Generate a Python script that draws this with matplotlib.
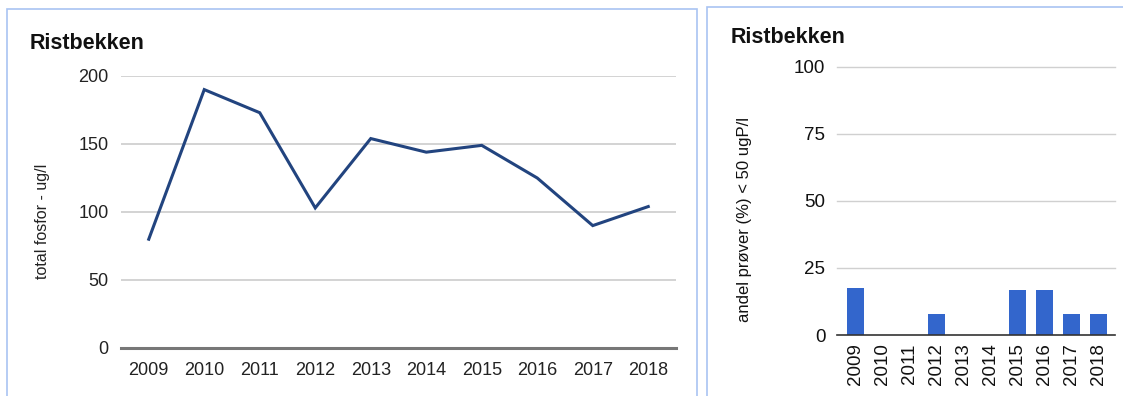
import matplotlib.pyplot as plt
from matplotlib.patches import Rectangle

years = ['2009', '2010', '2011', '2012', '2013', '2014', '2015', '2016', '2017', '2018']
fosfor = [80, 190, 173, 103, 154, 144, 149, 125, 90, 104]
andel = [17.6, 0, 0, 7.7, 0, 0, 16.7, 16.7, 7.7, 7.7]

plt.rcParams['font.family'] = ['Liberation Sans', 'DejaVu Sans']

W, H = 1123, 396
fig = plt.figure(figsize=(W / 100, H / 100), dpi=100)


def px_axes(x0, y0, x1, y1):
    # pixel box (top-left origin) -> figure axes
    return fig.add_axes([x0 / W, 1 - y1 / H, (x1 - x0) / W, (y1 - y0) / H])


# panel frames
border = '#a9c4f2'
fig.patches.append(Rectangle((7 / W, -0.05), 690 / W, 1 - 9 / H + 0.05,
                             transform=fig.transFigure, fill=False,
                             edgecolor=border, lw=1.2))
fig.patches.append(Rectangle((707 / W, -0.05), 420 / W, 1 - 7 / H + 0.05,
                             transform=fig.transFigure, fill=False,
                             edgecolor=border, lw=1.2))

# left: line chart
ax1 = px_axes(121, 76, 676, 348)
x = range(len(years))
ax1.plot(x, fosfor, color='#22447f', lw=2.2, solid_joinstyle='miter')
ax1.set_xlim(-0.5, len(years) - 0.5)
ax1.set_ylim(0, 200)
ax1.set_yticks([0, 50, 100, 150, 200])
ax1.set_xticks(list(x))
ax1.set_xticklabels(years)
for s in ax1.spines.values():
    s.set_visible(False)
ax1.grid(axis='y', color='#d0d0d0', lw=1.3)
ax1.set_axisbelow(True)
ax1.axhline(0, color='#777777', lw=2.2, clip_on=False)
ax1.tick_params(length=0, labelsize=13, colors='#222222')
ax1.tick_params(axis='y', pad=9)
ax1.tick_params(axis='x', pad=10)
fig.text(30 / W, 1 - 49 / H, 'Ristbekken', fontsize=15.5, fontweight='bold',
         color='#111111', va='baseline')
fig.text(42 / W, 1 - 221 / H, 'total fosfor - ug/l', rotation=90,
         fontsize=11.5, ha='center', va='center', color='#222222')

# right: bar chart
ax2 = px_axes(842, 67, 1112, 335)
ax2.bar(range(len(years)), andel, width=0.63, color='#3366cc')
ax2.set_xlim(-0.5, len(years) - 0.5)
ax2.set_ylim(0, 100)
ax2.set_yticks([0, 25, 50, 75, 100])
ax2.set_xticks(range(len(years)))
ax2.set_xticklabels(years, rotation=90)
for s in ax2.spines.values():
    s.set_visible(False)
for v in [25, 50, 75, 100]:
    ax2.axhline(v, xmin=-5 / 270, xmax=1 + 3 / 270, color='#d0d0d0', lw=1.0,
                clip_on=False, zorder=0)
ax2.axhline(0, xmin=-5 / 270, xmax=1 + 3 / 270, color='#333333', lw=1.2,
            clip_on=False)
ax2.tick_params(length=0, labelsize=13.5, colors='#111111')
ax2.tick_params(axis='y', pad=12)
ax2.tick_params(axis='x', pad=6)
fig.text(731 / W, 1 - 43 / H, 'Ristbekken', fontsize=15.5, fontweight='bold',
         color='#111111', va='baseline')
fig.text(745 / W, 1 - 219 / H, 'andel prøver (%) < 50 ugP/l', rotation=90,
         fontsize=12, ha='center', va='center', color='#111111')

fig.savefig('out.png', dpi=100)
